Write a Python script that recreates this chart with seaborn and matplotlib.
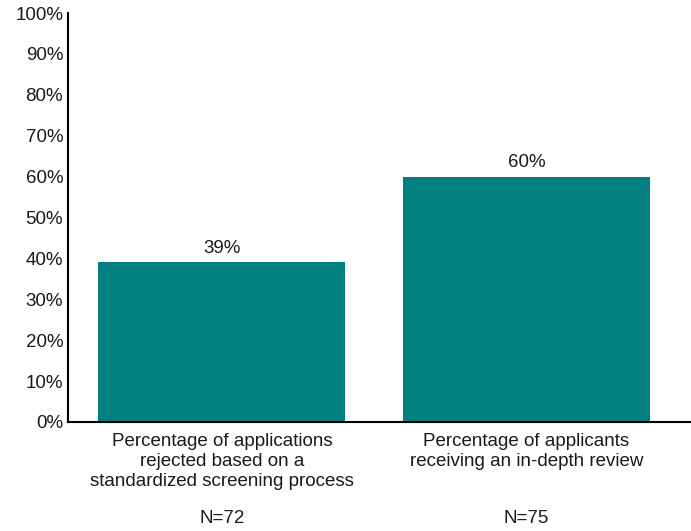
import pandas as pd
import matplotlib.pyplot as plt
import seaborn as sns
from matplotlib.transforms import blended_transform_factory

categories = [
    "Percentage of applications\nrejected based on a\nstandardized screening process",
    "Percentage of applicants\nreceiving an in-depth review",
]
values = [39, 60]
sample_sizes = ["N=72", "N=75"]

sns.set_style("white")
plt.rcParams["font.family"] = ["Liberation Sans", "DejaVu Sans"]

df = pd.DataFrame({"category": categories, "value": values})

fig = plt.figure(figsize=(6.91, 5.31), dpi=100)
ax = fig.add_axes([0.0984, 0.2053, 0.9016, 0.7702])

sns.barplot(data=df, x="category", y="value", color="#008080", saturation=1,
            width=0.81, linewidth=0, ax=ax)

for i, v in enumerate(values):
    ax.text(i, v + 1.3, f"{v}%", ha="center", va="bottom", fontsize=13.5, color="#1a1a1a")

trans = blended_transform_factory(ax.transData, ax.transAxes)
for i, n in enumerate(sample_sizes):
    ax.text(i, -0.235, n, ha="center", va="center", fontsize=13.5,
            color="#1a1a1a", transform=trans)

ax.set_ylim(0, 100)
ax.set_xlim(-0.505, 1.54)
ax.set_yticks(range(0, 101, 10))
ax.set_yticklabels([f"{t}%" for t in range(0, 101, 10)])
ax.tick_params(axis="both", length=0, labelsize=13.5, colors="#1a1a1a")
ax.tick_params(axis="x", pad=8)
for lbl in ax.get_xticklabels():
    lbl.set_linespacing(1.22)
ax.set_xlabel("")
ax.set_ylabel("")

for side in ["top", "right"]:
    ax.spines[side].set_visible(False)
for side in ["left", "bottom"]:
    ax.spines[side].set_color("black")
    ax.spines[side].set_linewidth(1.5)

plt.savefig("out.png", dpi=100)
plt.close()
